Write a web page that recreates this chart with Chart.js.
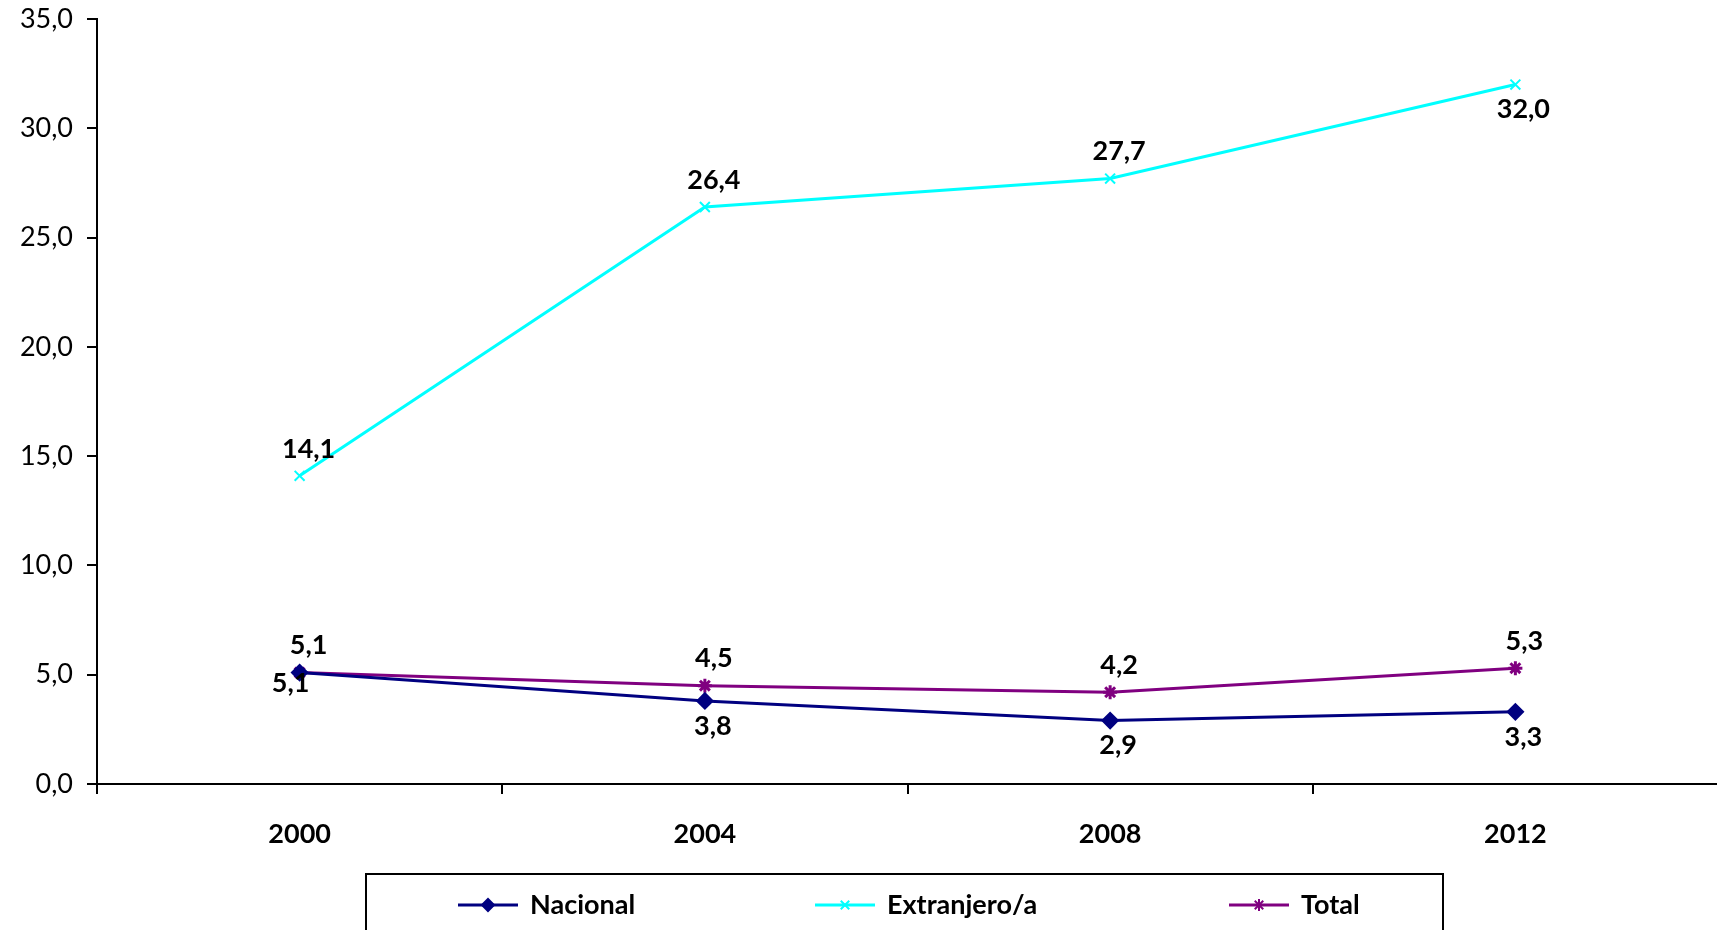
<!DOCTYPE html>
<html>
<head>
<meta charset="utf-8">
<script src="https://cdn.jsdelivr.net/npm/chart.js@4/dist/chart.umd.min.js"></script>
<style>
  html, body { margin: 0; padding: 0; background: #fff; overflow: hidden; }
  #wrap { width: 1717px; height: 930px; overflow: hidden; }
</style>
</head>
<body>
<div id="wrap"><canvas id="grafico" width="1728" height="930"></canvas></div>
<script>
// Datos del gráfico
const anos = ['2000', '2004', '2008', '2012'];
const nacional = [5.1, 3.8, 2.9, 3.3];
const extranjero = [14.1, 26.4, 27.7, 32.0];
const total = [5.1, 4.5, 4.2, 5.3];
const ticksY = [0, 5, 10, 15, 20, 25, 30, 35];

// posición de las etiquetas (arriba / abajo / izquierda-abajo)
const posNacional = ['leftBelow', 'below', 'below', 'below'];
const posExtranjero = ['above', 'above', 'above', 'below'];
const posTotal = ['above', 'above', 'above', 'above'];

const fuente = 'Lato, "DejaVu Sans", sans-serif';
const fmt = v => v.toFixed(1).replace('.', ',');

// Etiquetas de valores
const etiquetas = {
  id: 'etiquetas',
  afterDatasetsDraw(chart) {
    const ctx = chart.ctx;
    ctx.save();
    ctx.font = 'bold 27px ' + fuente;
    ctx.fillStyle = '#000';
    ctx.textAlign = 'center';
    ctx.textBaseline = 'middle';
    chart.data.datasets.forEach((ds, i) => {
      const meta = chart.getDatasetMeta(i);
      meta.data.forEach((pt, j) => {
        const p = ds.posiciones[j];
        let dx = 9, dy = -27;
        if (p === 'below') { dx = 8; dy = 25; }
        if (p === 'leftBelow') { dx = -9; dy = 11; }
        ctx.fillText(fmt(ds.data[j]), pt.x + dx, pt.y + dy);
      });
    });
    ctx.restore();
  }
};

// Leyenda con recuadro
const leyenda = {
  id: 'leyenda',
  afterDraw(chart) {
    const ctx = chart.ctx;
    ctx.save();
    ctx.strokeStyle = '#000';
    ctx.lineWidth = 2;
    ctx.strokeRect(366, 874, 1077, 80);
    const xs = [458, 815, 1229];
    const y = 905;
    ctx.font = 'bold 27px ' + fuente;
    ctx.textBaseline = 'middle';
    chart.data.datasets.forEach((ds, i) => {
      ctx.strokeStyle = ds.borderColor;
      ctx.lineWidth = 3;
      ctx.beginPath();
      ctx.moveTo(xs[i], y);
      ctx.lineTo(xs[i] + 60, y);
      ctx.stroke();
      ctx.fillStyle = ds.borderColor;
      ctx.lineWidth = 2;
      Chart.helpers.drawPoint(ctx, { pointStyle: ds.pointStyle, radius: 6, borderWidth: 2 }, xs[i] + 30, y);
      ctx.fillStyle = '#000';
      ctx.fillText(ds.label, xs[i] + 72, y);
    });
    ctx.restore();
  }
};

new Chart(document.getElementById('grafico').getContext('2d'), {
  type: 'line',
  data: {
    labels: anos,
    datasets: [
      {
        label: 'Nacional', data: nacional, posiciones: posNacional,
        borderColor: '#000080', backgroundColor: '#000080',
        pointStyle: 'rectRot', pointRadius: 7, borderWidth: 3
      },
      {
        label: 'Extranjero/a', data: extranjero, posiciones: posExtranjero,
        borderColor: '#00FFFF', backgroundColor: '#00FFFF',
        pointStyle: 'crossRot', pointRadius: 7, pointBorderWidth: 2, borderWidth: 3
      },
      {
        label: 'Total', data: total, posiciones: posTotal,
        borderColor: '#800080', backgroundColor: '#800080',
        pointStyle: 'star', pointRadius: 7, pointBorderWidth: 3, borderWidth: 3
      }
    ]
  },
  options: {
    responsive: false,
    animation: false,
    layout: { padding: { top: 19, right: 0, left: 1, bottom: 0 } },
    plugins: { legend: { display: false }, tooltip: { enabled: false } },
    scales: {
      x: {
        offset: true,
        grid: { offset: true, drawOnChartArea: false, drawTicks: true, tickLength: 10, color: '#000', lineWidth: 2 },
        border: { display: true, color: '#000', width: 2 },
        ticks: { color: '#000', font: { family: fuente, size: 27, weight: 'bold' }, padding: 24, maxRotation: 0 },
        afterFit(scale) { scale.height = 146; scale.paddingLeft = 0; scale.paddingRight = 0; }
      },
      y: {
        min: 0, max: 35,
        afterBuildTicks(scale) { scale.ticks = ticksY.map(v => ({ value: v })); },
        grid: { drawOnChartArea: false, drawTicks: true, tickLength: 10, color: '#000', lineWidth: 2 },
        border: { display: true, color: '#000', width: 2 },
        ticks: { color: '#000', font: { family: fuente, size: 27 }, padding: 14, callback: v => fmt(v) },
        afterFit(scale) { scale.width = 96; scale.paddingTop = 0; scale.paddingBottom = 0; }
      }
    }
  },
  plugins: [etiquetas, leyenda]
});
</script>
</body>
</html>
